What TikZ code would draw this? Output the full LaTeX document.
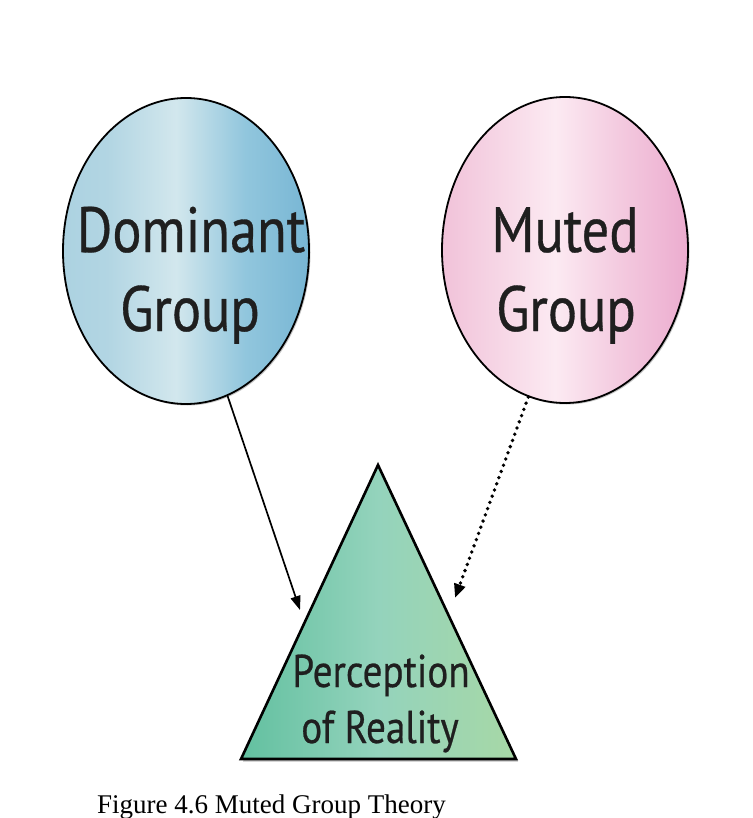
\documentclass[tikz,border=0pt]{standalone}
\usepackage{fontspec}
\setmainfont{Liberation Serif}
\newfontfamily\myr[FakeStretch=0.85,FakeBold=0.5]{PT Sans}
\usetikzlibrary{shapes.geometric,arrows.meta,shadows}
\definecolor{b1}{RGB}{172,210,225}
\definecolor{b2}{RGB}{210,231,237}
\definecolor{bm}{RGB}{145,198,221}
\definecolor{b3}{RGB}{120,182,212}
\definecolor{p1}{RGB}{241,194,217}
\definecolor{p2}{RGB}{252,234,242}
\definecolor{pm}{RGB}{243,200,222}
\definecolor{p3}{RGB}{236,172,207}
\definecolor{g1}{RGB}{98,192,160}
\definecolor{g2}{RGB}{148,211,188}
\definecolor{g3}{RGB}{167,216,166}
\pgfdeclarehorizontalshading{blueg}{100bp}{color(0bp)=(b1); color(25bp)=(b1); color(34bp)=(b1!85!b2); color(48bp)=(b2); color(62bp)=(bm); color(75bp)=(b3); color(100bp)=(b3)}
\pgfdeclarehorizontalshading{pinkg}{100bp}{color(0bp)=(p1); color(25bp)=(p1); color(48bp)=(p2); color(62bp)=(pm); color(75bp)=(p3); color(100bp)=(p3)}
\pgfdeclarehorizontalshading{greeng}{100bp}{color(0bp)=(g1); color(25bp)=(g1); color(50bp)=(g2); color(75bp)=(g3); color(100bp)=(g3)}
\begin{document}
\begin{tikzpicture}[x=1pt,y=-1pt,
  groupball/.style={ellipse, draw=black, line width=1.8pt, minimum width=246pt, minimum height=306pt, inner sep=0pt,
    drop shadow={shadow xshift=1.5pt, shadow yshift=-1.5pt, opacity=0.45}},
  biglbl/.style={anchor=base, inner sep=0pt, text=black!88, font=\myr\fontsize{64}{64}\selectfont},
  trilbl/.style={anchor=base, inner sep=0pt, text=black!88, font=\myr\fontsize{46}{46}\selectfont},
  solidarrow/.style={line width=1.7pt, -{Triangle[length=14pt,width=10pt]}},
  dotarrow/.style={line width=3.8pt, line cap=round, dash pattern=on 0pt off 6.6pt, -{Triangle[length=14pt,width=11pt]}}
]
\useasboundingbox[fill=white] (0,0) rectangle (752,818);
\node[groupball, shading=blueg] (dom) at (186,251) {};
\node[groupball, shading=pinkg] (mut) at (565,250) {};
\path[draw=black, line width=2.6pt, line join=miter, shading=greeng,
  drop shadow={shadow xshift=2pt, shadow yshift=-2.5pt, opacity=0.5}]
  (378,465) coordinate (apex) -- (241,759) coordinate (bl) -- (516,759) coordinate (br) -- cycle;
\node[biglbl] (domA) at (191,252) {Dominant};
\node[biglbl] (domB) at (190,331) {Group};
\node[biglbl] (mutA) at (565,252) {Muted};
\node[biglbl] (mutB) at (566,331) {Group};
\node[trilbl] (perA) at (381,687) {Perception};
\node[trilbl] (perB) at (380,743) {of Reality};
\coordinate (tipL) at (300,610);
\coordinate (tipR) at (455,598);
\draw[solidarrow] (dom.-74) -- (tipL);
\draw[dotarrow] (mut.-104) -- (tipR);
\node[anchor=base west, inner sep=0pt, font=\fontsize{27}{27}\selectfont] (cap) at (97,813) {Figure 4.6 Muted Group Theory};
\end{tikzpicture}
\end{document}
